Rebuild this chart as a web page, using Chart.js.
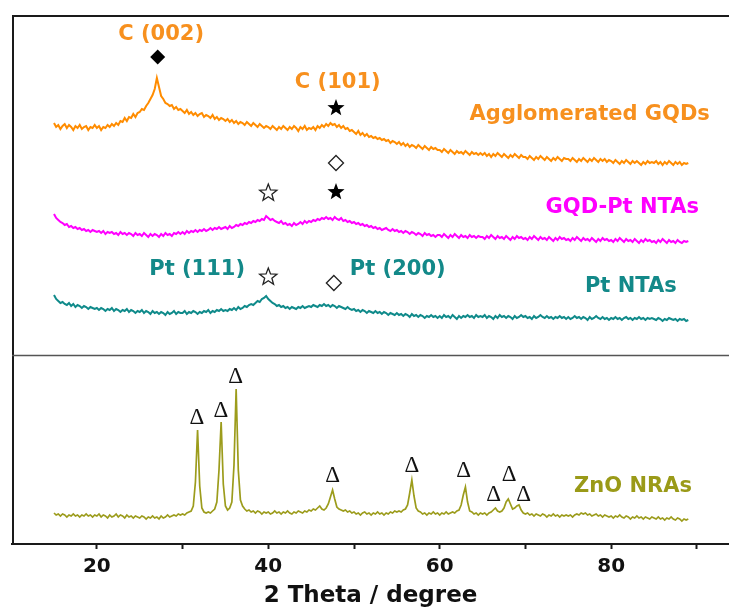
<!DOCTYPE html>
<html>
<head>
<meta charset="utf-8">
<script src="https://cdn.jsdelivr.net/npm/chart.js@4.4.1/dist/chart.umd.min.js"></script>
<style>
  html, body { margin: 0; padding: 0; background: #fff; overflow: hidden; }
  #wrap { width: 729px; height: 612px; }
</style>
</head>
<body>
<div id="wrap"><canvas id="xrd" width="729" height="612"></canvas></div>
<script>
/* XRD patterns: three stacked curves on top, ZnO NRAs below. */
var thetaStart = 15, thetaStep = 0.25;   // scan: 15 to 89 degrees

// intensities (a.u.), each relative to its own baseline
var gqd = [
  41,37,39,35,38,40,36,39,37,34,38,36,39,35,37,38,34,37,36,39,
  36,38,34,37,36,39,37,40,38,41,39,43,42,46,43,47,46,50,47,51,
  52,55,54,58,61,65,69,75,86,77,68,65,61,60,58,59,55,57,54,55,
  53,51,54,50,52,49,51,48,50,51,47,49,48,46,49,45,47,44,46,45,
  43,45,42,44,41,43,40,42,41,39,42,40,38,41,39,37,40,38,36,38,
  37,35,38,36,34,37,35,38,36,34,37,35,38,36,33,37,35,38,34,36,
  35,37,34,38,36,39,37,40,38,41,39,40,37,39,36,38,35,36,33,34,
  32,30,33,29,31,28,30,27,28,26,27,25,26,24,25,23,24,21,23,22,
  20,22,19,21,18,20,17,19,18,16,19,17,15,18,16,14,17,15,16,14,
  14,12,15,13,11,14,12,10,13,11,12,10,13,11,9,12,10,11,9,11,
  9,11,8,10,7,10,8,11,9,7,10,8,6,9,7,10,8,6,9,7,
  7,5,8,6,4,7,5,8,6,4,7,5,3,6,4,7,5,3,6,5,
  5,3,6,4,2,5,3,6,4,2,5,3,6,4,2,5,3,5,2,4,
  3,1,4,2,0,3,1,4,2,0,3,1,3,1,-1,2,0,3,1,2,
  1,3,0,2,-1,2,0,3,1,-1,2,0,2,-1,1,0,1
];
var gqdPt = [
  28,24,22,20,19,17,18,15,16,14,15,13,14,12,13,11,12,10,12,11,
  10,11,9,11,8,10,9,10,8,9,7,10,8,9,7,9,8,6,9,7,
  8,6,9,7,5,8,6,8,7,5,8,6,9,7,8,6,9,8,10,8,
  10,8,11,9,11,10,12,10,12,11,13,11,12,14,12,14,13,15,13,14,
  15,13,16,14,15,17,16,18,17,19,18,20,19,21,20,22,21,23,22,26,
  24,22,23,21,20,19,21,18,19,17,18,16,19,17,18,20,18,21,19,21,
  20,22,21,23,22,24,23,25,23,24,22,25,23,22,24,21,22,20,21,19,
  20,18,19,17,18,16,17,15,16,14,15,13,14,12,13,14,12,11,13,11,
  12,10,11,9,11,10,8,10,9,7,9,8,6,9,7,8,6,7,5,7,
  7,5,8,6,4,7,5,8,6,4,7,5,6,4,7,5,6,4,6,5,
  5,3,6,4,7,5,3,6,4,5,3,6,4,2,5,3,6,4,5,3,
  4,2,5,3,6,4,2,5,3,4,2,5,3,1,4,2,5,3,4,2,
  3,1,4,2,5,3,1,4,2,3,1,4,2,0,3,1,4,2,3,1,
  2,0,3,1,4,2,0,3,1,2,0,3,1,-1,2,0,3,1,2,0,
  1,-1,2,0,3,1,-1,2,0,1,-1,2,0,-1,1,0,1
];
var ptNta = [
  25,21,19,17,18,16,15,17,14,16,13,15,14,12,14,13,11,13,12,11,
  12,10,12,11,9,11,10,12,9,11,10,8,10,9,11,8,10,9,7,9,
  8,10,7,9,8,6,9,7,8,6,8,7,5,8,6,7,9,6,8,7,
  7,9,6,8,7,9,8,6,8,7,9,8,10,7,9,8,10,9,11,9,
  10,9,11,10,12,10,13,11,12,14,13,15,16,15,17,19,18,21,22,24,
  21,19,17,16,14,15,13,14,12,13,11,13,12,11,13,12,14,12,13,14,
  13,15,14,13,15,14,16,14,15,13,15,14,12,14,13,12,11,13,11,10,
  11,9,10,8,10,9,7,9,8,7,9,7,8,6,8,7,5,7,6,5,
  7,5,6,4,6,5,3,6,4,5,3,5,4,2,4,3,5,3,4,2,
  4,2,5,3,4,2,5,3,1,4,2,4,3,5,3,4,2,5,3,4,
  3,5,2,4,3,1,4,2,5,3,4,2,4,3,1,4,2,3,5,3,
  4,2,3,1,4,2,3,5,3,2,4,2,3,1,3,2,4,2,3,1,
  3,1,2,4,2,3,1,3,2,0,3,1,2,4,2,1,3,1,2,0,
  2,1,3,1,2,0,2,3,1,2,0,2,1,3,1,2,0,2,1,2,
  1,0,2,1,-1,1,0,2,1,0,1,-1,1,0,1,-1,0
];
var zno = [
  7,5,6,4,6,5,3,5,4,6,4,5,3,5,4,6,4,5,3,5,
  4,6,3,5,4,2,5,3,4,6,3,5,4,2,5,3,4,2,4,3,
  2,4,3,1,3,2,4,2,3,1,4,2,3,5,3,4,5,4,6,5,
  6,5,7,8,9,14,38,90,34,12,8,7,8,7,9,11,18,50,98,36,
  14,10,12,18,55,131,50,20,14,11,9,10,8,9,7,9,8,6,8,7,
  8,6,7,9,7,8,6,8,7,9,7,6,8,7,9,8,7,9,8,10,
  9,11,10,12,14,11,10,12,16,23,30,21,13,11,10,9,10,8,9,7,
  8,6,7,5,7,8,6,7,5,7,6,8,6,7,5,7,6,8,7,9,
  8,9,8,10,11,15,27,40,24,12,9,8,6,7,5,7,6,8,6,7,
  5,7,6,8,6,7,8,7,9,10,15,25,33,18,9,8,6,7,5,7,
  6,7,5,7,8,10,12,9,8,9,12,18,21,16,11,12,14,15,10,7,
  6,7,5,6,4,6,5,4,6,5,3,5,4,6,4,5,3,5,4,5,
  4,5,3,5,6,5,7,6,7,5,6,4,5,6,4,5,3,5,4,3,
  4,2,4,3,5,3,2,4,3,1,3,2,4,2,3,1,3,2,1,3,
  2,1,3,1,2,0,2,1,3,1,0,2,1,-1,1,0,1
];

// vertical stacking offsets
var offGqd = 380, offGqdPt = 302, offPtNta = 224, offZno = 24;
var panelSplit = 189;          // divider between the two panels
var yMax = 529;
var xMin = 10.1, xMax = 93.75;
var xTickValues = [20, 30, 40, 50, 60, 70, 80, 90];
var xTickLabelled = [20, 40, 60, 80];

var ORANGE = '#ff8c00', ORANGE_T = '#f7901e';
var MAGENTA = '#ff00ff';
var TEAL = '#0f8a8a', TEAL_T = '#138989';
var OLIVE = '#9c9c1c', OLIVE_T = '#9a9a18';

// text labels [text, theta, y, colour]
var textLabels = [
  ['C (002)', 27.5, 509, ORANGE_T],
  ['C (101)', 48.1, 461, ORANGE_T],
  ['Agglomerated GQDs', 77.5, 429, ORANGE_T],
  ['GQD-Pt NTAs', 81.3, 336, MAGENTA],
  ['Pt (111)', 31.7, 274, TEAL_T],
  ['Pt (200)', 55.1, 274, TEAL_T],
  ['Pt NTAs', 82.3, 257, TEAL_T],
  ['ZnO NRAs', 82.55, 57, OLIVE_T]
];
// peak markers [shape, filled, theta, y]
var peakMarks = [
  ['diamond', true, 27.1, 487],
  ['star', true, 47.9, 436],
  ['diamond', false, 47.9, 381],
  ['star', false, 40.0, 351],
  ['star', true, 47.9, 352],
  ['star', false, 40.0, 267],
  ['diamond', false, 47.65, 261]
];
// ZnO reflections marked with a delta [theta, y]
var znoDeltas = [
  [31.67, 126], [34.47, 133], [36.2, 167], [47.5, 68], [56.75, 78],
  [62.8, 73], [66.3, 49], [68.1, 69], [69.8, 49]
];

function toPoints(arr, off) {
  return arr.map(function (v, i) { return { x: thetaStart + i * thetaStep, y: v + off }; });
}

function star(ctx, cx, cy, ro, ri) {
  ctx.beginPath();
  for (var k = 0; k < 10; k++) {
    var r = k % 2 ? ri : ro;
    var a = -Math.PI / 2 + k * Math.PI / 5;
    ctx.lineTo(cx + r * Math.cos(a), cy + r * Math.sin(a));
  }
  ctx.closePath();
}
function diamond(ctx, cx, cy, r) {
  ctx.beginPath();
  ctx.moveTo(cx, cy - r); ctx.lineTo(cx + r, cy); ctx.lineTo(cx, cy + r); ctx.lineTo(cx - r, cy);
  ctx.closePath();
}

var decorPlugin = {
  id: 'decor',
  afterDatasetsDraw: function (c) {
    var ctx = c.ctx, a = c.chartArea, xs = c.scales.x, ys = c.scales.y;
    ctx.save();
    // frame: left, top and the panel divider
    ctx.strokeStyle = '#1a1a1a'; ctx.lineWidth = 2;
    ctx.beginPath();
    ctx.moveTo(a.left + 1, a.bottom); ctx.lineTo(a.left + 1, a.top + 1); ctx.lineTo(a.right, a.top + 1);
    ctx.stroke();
    ctx.strokeStyle = '#555'; ctx.lineWidth = 1.5;
    var yd = Math.round(ys.getPixelForValue(panelSplit)) + 0.5;
    ctx.beginPath(); ctx.moveTo(a.left, yd); ctx.lineTo(a.right, yd); ctx.stroke();

    ctx.textAlign = 'center'; ctx.textBaseline = 'middle';
    ctx.font = 'bold 21px "DejaVu Sans"';
    textLabels.forEach(function (t) {
      ctx.fillStyle = t[3];
      ctx.fillText(t[0], xs.getPixelForValue(t[1]), ys.getPixelForValue(t[2]));
    });

    peakMarks.forEach(function (m) {
      var px = xs.getPixelForValue(m[2]), py = ys.getPixelForValue(m[3]);
      if (m[0] === 'star') star(ctx, px, py, 9, 3.8);
      else diamond(ctx, px, py, 7.5);
      if (m[1]) { ctx.fillStyle = '#000'; ctx.fill(); }
      else { ctx.strokeStyle = '#222'; ctx.lineWidth = 1.3; ctx.stroke(); }
    });

    ctx.fillStyle = '#111';
    ctx.font = '23px "Liberation Serif"';
    znoDeltas.forEach(function (d) {
      ctx.fillText('\u0394', xs.getPixelForValue(d[0]), ys.getPixelForValue(d[1]));
    });
    ctx.restore();
  }
};

function line(data, color, w) {
  return { data: data, borderColor: color, borderWidth: w, pointRadius: 0, tension: 0, fill: false };
}

new Chart(document.getElementById('xrd').getContext('2d'), {
  type: 'line',
  data: {
    datasets: [
      line(toPoints(gqd, offGqd), ORANGE, 2),
      line(toPoints(gqdPt, offGqdPt), MAGENTA, 2),
      line(toPoints(ptNta, offPtNta), TEAL, 2),
      line(toPoints(zno, offZno), OLIVE, 1.7)
    ]
  },
  plugins: [decorPlugin],
  options: {
    responsive: false, animation: false, events: [],
    layout: { padding: { left: 12, top: 15, right: 0, bottom: 0 } },
    plugins: { legend: { display: false }, tooltip: { enabled: false } },
    scales: {
      x: {
        type: 'linear', min: xMin, max: xMax,
        afterBuildTicks: function (s) { s.ticks = xTickValues.map(function (v) { return { value: v }; }); },
        afterFit: function (s) { s.height = 68; },
        grid: { drawOnChartArea: false, drawTicks: true, tickLength: 5, tickWidth: 2, tickColor: '#1a1a1a' },
        border: { display: true, color: '#1a1a1a', width: 2 },
        ticks: {
          autoSkip: false, maxRotation: 0, padding: 6, color: '#111',
          font: { family: 'DejaVu Sans', size: 20, weight: 'bold' },
          callback: function (v) { return xTickLabelled.indexOf(v) >= 0 ? String(v) : ''; }
        },
        title: {
          display: true, text: '2 Theta / degree', color: '#111',
          font: { family: 'DejaVu Sans', size: 23, weight: 'bold' },
          padding: { top: 0, bottom: 2 }
        }
      },
      y: { display: false, min: 0, max: yMax }
    }
  }
});
</script>
</body>
</html>
